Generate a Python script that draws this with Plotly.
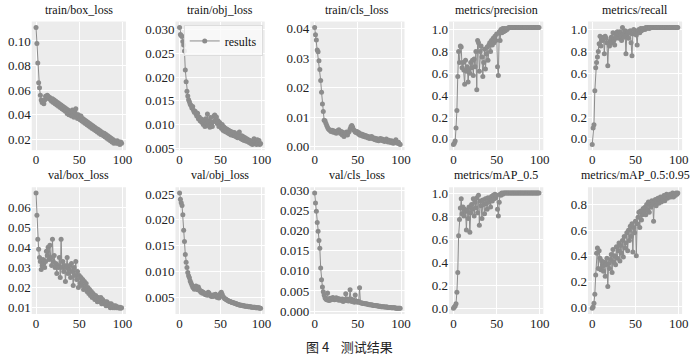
import plotly.graph_objects as go
from plotly.subplots import make_subplots

epochs = list(range(100))

train_box_loss = [
    0.111, 0.098, 0.082, 0.066, 0.062, 0.056, 0.052, 0.050, 0.051, 0.049,
    0.052, 0.055, 0.054, 0.056, 0.055, 0.053, 0.054, 0.052, 0.051, 0.053,
    0.050, 0.052, 0.049, 0.051, 0.048, 0.050, 0.047, 0.049, 0.046, 0.048,
    0.045, 0.047, 0.044, 0.046, 0.043, 0.045, 0.041, 0.044, 0.040, 0.043,
    0.042, 0.039, 0.044, 0.041, 0.038, 0.042, 0.045, 0.040, 0.037, 0.040,
    0.038, 0.036, 0.039, 0.035, 0.037, 0.034, 0.036, 0.033, 0.035, 0.032,
    0.034, 0.031, 0.033, 0.030, 0.032, 0.029, 0.031, 0.028, 0.030, 0.027,
    0.029, 0.026, 0.028, 0.025, 0.027, 0.024, 0.026, 0.025, 0.023, 0.025,
    0.022, 0.024, 0.021, 0.023, 0.020, 0.022, 0.019, 0.021, 0.018, 0.020,
    0.017, 0.019, 0.018, 0.017, 0.019, 0.017, 0.018, 0.016, 0.018, 0.017,
]

train_obj_loss = [
    0.0305, 0.0290, 0.0288, 0.0286, 0.0275, 0.0268, 0.0255, 0.0215, 0.0190, 0.0170,
    0.0160, 0.0152, 0.0148, 0.0143, 0.0140, 0.0135, 0.0138, 0.0130, 0.0126, 0.0128,
    0.0122, 0.0118, 0.0124, 0.0112, 0.0116, 0.0108, 0.0112, 0.0105, 0.0110, 0.0100,
    0.0108, 0.0096, 0.0112, 0.0102, 0.0122, 0.0098, 0.0108, 0.0094, 0.0115, 0.0100,
    0.0096, 0.0106, 0.0118, 0.0120, 0.0110, 0.0116, 0.0102, 0.0108, 0.0096, 0.0104,
    0.0098, 0.0092, 0.0100, 0.0088, 0.0095, 0.0086, 0.0092, 0.0084, 0.0090, 0.0082,
    0.0088, 0.0080, 0.0086, 0.0078, 0.0084, 0.0080, 0.0076, 0.0083, 0.0078, 0.0074,
    0.0080, 0.0072, 0.0078, 0.0084, 0.0074, 0.0070, 0.0076, 0.0068, 0.0074, 0.0066,
    0.0072, 0.0065, 0.0070, 0.0064, 0.0068, 0.0062, 0.0066, 0.0060, 0.0064, 0.0058,
    0.0066, 0.0070, 0.0060, 0.0064, 0.0058, 0.0068, 0.0062, 0.0066, 0.0058, 0.0060,
]

train_cls_loss = [
    0.0405, 0.0380, 0.0362, 0.0328, 0.0322, 0.0292, 0.0262, 0.0225, 0.0185, 0.0145,
    0.0120, 0.0090, 0.0088, 0.0080, 0.0072, 0.0065, 0.0060, 0.0058, 0.0055, 0.0052,
    0.0056, 0.0050, 0.0054, 0.0048, 0.0052, 0.0046, 0.0050, 0.0055, 0.0058, 0.0050,
    0.0045, 0.0052, 0.0040, 0.0048, 0.0035, 0.0046, 0.0042, 0.0050, 0.0040, 0.0048,
    0.0052, 0.0060, 0.0068, 0.0072, 0.0066, 0.0058, 0.0055, 0.0050, 0.0048, 0.0052,
    0.0045, 0.0048, 0.0040, 0.0044, 0.0038, 0.0042, 0.0036, 0.0040, 0.0034, 0.0038,
    0.0032, 0.0036, 0.0030, 0.0034, 0.0028, 0.0032, 0.0035, 0.0030, 0.0026, 0.0030,
    0.0024, 0.0028, 0.0022, 0.0026, 0.0020, 0.0024, 0.0028, 0.0022, 0.0026, 0.0020,
    0.0024, 0.0018, 0.0022, 0.0026, 0.0020, 0.0016, 0.0022, 0.0018, 0.0014, 0.0020,
    0.0016, 0.0012, 0.0018, 0.0014, 0.0024, 0.0016, 0.0012, 0.0015, 0.0010, 0.0008,
]

metrics_precision = [
    -0.05, -0.04, -0.02, 0.10, 0.26, 0.57, 0.80, 0.70, 0.85, 0.84,
    0.65, 0.70, 0.63, 0.50, 0.72, 0.62, 0.66, 0.52, 0.63, 0.60,
    0.70, 0.65, 0.72, 0.58, 0.73, 0.66, 0.80, 0.45, 0.90, 0.88,
    0.62, 0.80, 0.85, 0.75, 0.57, 0.70, 0.82, 0.64, 0.78, 0.84,
    0.72, 0.86, 0.88, 0.80, 0.90, 0.86, 0.92, 0.88, 0.94, 0.90,
    0.96, 0.66, 0.58, 0.98, 0.90, 1.00, 0.97, 1.01, 0.98, 1.01,
    0.99, 1.01, 1.00, 1.01, 1.02, 1.02, 1.02, 1.02, 1.02, 1.02,
    1.02, 1.02, 1.02, 1.02, 1.02, 1.02, 1.02, 1.02, 1.02, 1.02,
    1.02, 1.02, 1.02, 1.02, 1.02, 1.02, 1.02, 1.02, 1.02, 1.02,
    1.02, 1.02, 1.02, 1.02, 1.02, 1.02, 1.02, 1.02, 1.02, 1.02,
]

metrics_recall = [
    -0.05, 0.10, 0.13, 0.44, 0.65, 0.70, 0.75, 0.80, 0.87, 0.94,
    0.85, 0.92, 0.90, 0.93, 0.78, 0.94, 0.92, 0.88, 0.67, 0.88,
    0.85, 0.90, 0.93, 0.88, 0.97, 0.90, 0.86, 0.92, 0.95, 0.98,
    0.96, 0.92, 0.98, 0.94, 0.90, 1.02, 0.96, 0.93, 0.99, 0.78,
    0.95, 0.98, 0.92, 0.97, 0.99, 0.88, 0.76, 0.96, 1.00, 0.97,
    0.99, 0.95, 0.86, 0.98, 1.00, 0.97, 1.01, 0.99, 1.01, 1.00,
    1.01, 1.00, 1.02, 1.01, 1.02, 1.02, 1.01, 1.02, 1.02, 1.02,
    1.02, 1.02, 1.02, 1.02, 1.02, 1.02, 1.02, 1.02, 1.02, 1.02,
    1.02, 1.02, 1.02, 1.02, 1.02, 1.02, 1.02, 1.02, 1.02, 1.02,
    1.02, 1.02, 1.02, 1.02, 1.02, 1.02, 1.02, 1.02, 1.02, 1.02,
]

val_box_loss = [
    0.067, 0.056, 0.044, 0.039, 0.035, 0.033, 0.029, 0.031, 0.034, 0.032,
    0.030, 0.033, 0.038, 0.036, 0.040, 0.034, 0.041, 0.035, 0.031, 0.044,
    0.033, 0.036, 0.030, 0.032, 0.027, 0.031, 0.030, 0.035, 0.025, 0.044,
    0.030, 0.033, 0.028, 0.031, 0.023, 0.030, 0.035, 0.027, 0.029, 0.031,
    0.025, 0.032, 0.028, 0.021, 0.030, 0.026, 0.033, 0.024, 0.028, 0.020,
    0.026, 0.022, 0.025, 0.021, 0.024, 0.019, 0.023, 0.020, 0.022, 0.018,
    0.020, 0.017, 0.019, 0.016, 0.018, 0.015, 0.017, 0.016, 0.014, 0.016,
    0.015, 0.013, 0.015, 0.014, 0.013, 0.015, 0.012, 0.014, 0.013, 0.012,
    0.013, 0.011, 0.013, 0.012, 0.011, 0.012, 0.010, 0.012, 0.011, 0.010,
    0.011, 0.010, 0.011, 0.010, 0.0105, 0.010, 0.0098, 0.0102, 0.0097, 0.0100,
]

val_obj_loss = [
    0.0252, 0.0240, 0.0233, 0.0228, 0.0210, 0.0180, 0.0158, 0.0133, 0.0118, 0.0108,
    0.0098, 0.0092, 0.0088, 0.0082, 0.0078, 0.0074, 0.0070, 0.0068, 0.0066, 0.0070,
    0.0072, 0.0068, 0.0065, 0.0070, 0.0066, 0.0063, 0.0060, 0.0062, 0.0058, 0.0060,
    0.0058, 0.0056, 0.0055, 0.0057, 0.0054, 0.0060, 0.0058, 0.0055, 0.0053, 0.0052,
    0.0054, 0.0052, 0.0055, 0.0053, 0.0056, 0.0054, 0.0050, 0.0052, 0.0049, 0.0055,
    0.0058, 0.0060, 0.0056, 0.0052, 0.0050, 0.0048, 0.0047, 0.0046, 0.0045, 0.0044,
    0.0043, 0.0042, 0.0042, 0.0041, 0.0040, 0.0040, 0.0039, 0.0039, 0.0038, 0.0038,
    0.0037, 0.0037, 0.0036, 0.0036, 0.0035, 0.0035, 0.0035, 0.0034, 0.0034, 0.0034,
    0.0033, 0.0033, 0.0033, 0.0033, 0.0032, 0.0032, 0.0032, 0.0032, 0.0031, 0.0031,
    0.0031, 0.0031, 0.0031, 0.0030, 0.0030, 0.0030, 0.0030, 0.0030, 0.0029, 0.0029,
]

val_cls_loss = [
    0.0293, 0.0268, 0.0248, 0.0220, 0.0198, 0.0175, 0.0156, 0.0107, 0.0078, 0.0060,
    0.0048, 0.0040, 0.0033, 0.0030, 0.0028, 0.0045, 0.0027, 0.0026, 0.0032, 0.0028,
    0.0030, 0.0034, 0.0032, 0.0028, 0.0031, 0.0033, 0.0029, 0.0031, 0.0027, 0.0030,
    0.0028, 0.0026, 0.0030, 0.0024, 0.0029, 0.0027, 0.0043, 0.0026, 0.0030, 0.0025,
    0.0028, 0.0053, 0.0030, 0.0024, 0.0028, 0.0026, 0.0022, 0.0040, 0.0025, 0.0023,
    0.0022, 0.0024, 0.0058, 0.0021, 0.0020, 0.0020, 0.0019, 0.0019, 0.0018, 0.0018,
    0.0018, 0.0017, 0.0017, 0.0016, 0.0016, 0.0016, 0.0015, 0.0015, 0.0014, 0.0014,
    0.0014, 0.0013, 0.0013, 0.0013, 0.0012, 0.0012, 0.0012, 0.0011, 0.0011, 0.0011,
    0.0011, 0.0010, 0.0010, 0.0010, 0.0010, 0.0009, 0.0009, 0.0009, 0.0009, 0.0008,
    0.0008, 0.0008, 0.0008, 0.0008, 0.0007, 0.0007, 0.0007, 0.0007, 0.0007, 0.0007,
]

metrics_map50 = [
    0.00, 0.01, 0.02, 0.04, 0.14, 0.31, 0.63, 0.77, 0.87, 0.95,
    0.82, 0.88, 0.80, 0.86, 0.84, 0.68, 0.85, 0.78, 0.88, 0.66,
    0.83, 0.90, 0.86, 0.95, 0.80, 0.92, 0.87, 0.96, 0.83, 0.98,
    0.72, 0.93, 0.89, 0.78, 0.94, 0.90, 0.82, 0.95, 0.91, 0.86,
    0.96, 0.92, 0.95, 0.88, 0.97, 0.93, 0.98, 0.95, 0.99, 0.96,
    0.98, 0.86, 0.80, 0.92, 0.99, 0.98, 1.00, 0.99, 1.00, 1.00,
    1.00, 1.00, 1.00, 1.00, 1.00, 1.00, 1.00, 1.00, 1.00, 1.00,
    1.00, 1.00, 1.00, 1.00, 1.00, 1.00, 1.00, 1.00, 1.00, 1.00,
    1.00, 1.00, 1.00, 1.00, 1.00, 1.00, 1.00, 1.00, 1.00, 1.00,
    1.00, 1.00, 1.00, 1.00, 1.00, 1.00, 1.00, 1.00, 1.00, 1.00,
]

metrics_map50_95 = [
    -0.01, 0.00, 0.03, 0.10, 0.25, 0.42, 0.46, 0.30, 0.44, 0.38,
    0.29, 0.36, 0.32, 0.28, 0.35, 0.24, 0.33, 0.38, 0.16, 0.34,
    0.30, 0.37, 0.41, 0.27, 0.45, 0.35, 0.40, 0.33, 0.47, 0.38,
    0.44, 0.50, 0.36, 0.48, 0.42, 0.52, 0.39, 0.55, 0.46, 0.50,
    0.58, 0.44, 0.60, 0.52, 0.63, 0.55, 0.65, 0.43, 0.62, 0.58,
    0.67, 0.40, 0.65, 0.70, 0.74, 0.62, 0.75, 0.68, 0.72, 0.77,
    0.74, 0.78, 0.72, 0.80, 0.76, 0.82, 0.74, 0.80, 0.78, 0.83,
    0.80, 0.67, 0.82, 0.84, 0.79, 0.83, 0.85, 0.81, 0.84, 0.86,
    0.82, 0.85, 0.84, 0.87, 0.83, 0.86, 0.88, 0.85, 0.87, 0.86,
    0.88, 0.86, 0.87, 0.89, 0.86, 0.88, 0.87, 0.89, 0.88, 0.89,
]

titles = ["train/box_loss", "train/obj_loss", "train/cls_loss", "metrics/precision", "metrics/recall",
          "val/box_loss", "val/obj_loss", "val/cls_loss", "metrics/mAP_0.5", "metrics/mAP_0.5:0.95"]
series = [train_box_loss, train_obj_loss, train_cls_loss, metrics_precision, metrics_recall,
          val_box_loss, val_obj_loss, val_cls_loss, metrics_map50, metrics_map50_95]
y_ticks = [
    [0.02, 0.04, 0.06, 0.08, 0.10],
    [0.005, 0.010, 0.015, 0.020, 0.025, 0.030],
    [0.00, 0.01, 0.02, 0.03, 0.04],
    [0.0, 0.2, 0.4, 0.6, 0.8, 1.0],
    [0.0, 0.2, 0.4, 0.6, 0.8, 1.0],
    [0.01, 0.02, 0.03, 0.04, 0.05, 0.06],
    [0.005, 0.010, 0.015, 0.020, 0.025],
    [0.000, 0.005, 0.010, 0.015, 0.020, 0.025, 0.030],
    [0.0, 0.2, 0.4, 0.6, 0.8, 1.0],
    [0.0, 0.2, 0.4, 0.6, 0.8],
]
y_fmt = [".2f", ".3f", ".2f", ".1f", ".1f", ".2f", ".3f", ".3f", ".1f", ".1f"]
x_ticks = [0, 50, 100]
legend_name = "results"
caption = "图 4    测试结果"

W, H = 700, 359
col_px = [(32, 127), (177, 267), (313, 408), (453, 548), (593, 688)]
row_px = [(18, 150), (188, 318)]

SERIF = "Liberation Serif"
GRAY = "#8c8c8c"

fig = make_subplots(rows=2, cols=5)

annotations = []
for i, (t, ys) in enumerate(zip(titles, series)):
    r, c = divmod(i, 5)
    fig.add_trace(go.Scatter(
        x=epochs, y=ys, mode="lines+markers", name=legend_name,
        showlegend=(i == 1),
        line=dict(color=GRAY, width=1),
        marker=dict(color=GRAY, size=5),
    ), row=r + 1, col=c + 1)
    n = i + 1
    xk = "xaxis" if n == 1 else f"xaxis{n}"
    yk = "yaxis" if n == 1 else f"yaxis{n}"
    x0, x1 = col_px[c]
    y0, y1 = row_px[r]
    lo, hi = min(ys), max(ys)
    span = hi - lo
    fig.layout[xk].update(
        domain=[x0 / W, x1 / W], range=[-5, 104],
        tickvals=x_ticks, ticks="", showline=False, zeroline=False,
        gridcolor="white", gridwidth=1,
        tickfont=dict(family=SERIF, size=13, color="#222"),
    )
    fig.layout[yk].update(
        domain=[1 - y1 / H, 1 - y0 / H], range=[lo - 0.05 * span, hi + 0.05 * span],
        tickvals=y_ticks[i], tickformat=y_fmt[i], ticks="", showline=False, zeroline=False,
        gridcolor="white", gridwidth=1,
        tickfont=dict(family=SERIF, size=13, color="#222"),
    )
    annotations.append(dict(
        text=t, x=(x0 + x1) / 2 / W, y=1 - (y0 - 3) / H, xref="paper", yref="paper",
        xanchor="center", yanchor="bottom", showarrow=False,
        font=dict(family=SERIF, size=12, color="#111"),
    ))

annotations.append(dict(
    text=caption, x=353 / W, y=1 - 351 / H, xref="paper", yref="paper",
    xanchor="center", yanchor="middle", showarrow=False,
    font=dict(family="Noto Sans CJK SC", size=13, color="#222"),
))

fig.update_layout(
    width=W, height=H, margin=dict(l=0, r=0, t=0, b=0),
    paper_bgcolor="white", plot_bgcolor="#ececec",
    annotations=annotations,
    legend=dict(x=265 / W, y=1 - 22 / H, xanchor="right", yanchor="top",
                bgcolor="rgba(250,250,250,0.85)", bordercolor="#dddddd", borderwidth=1,
                font=dict(family=SERIF, size=12, color="#111"), itemwidth=30,
                tracegroupgap=0),
)

fig.write_html(
    "out.html",
    config={"displayModeBar": False},
    post_script="document.body.style.margin='0';document.body.style.overflow='hidden';",
)
